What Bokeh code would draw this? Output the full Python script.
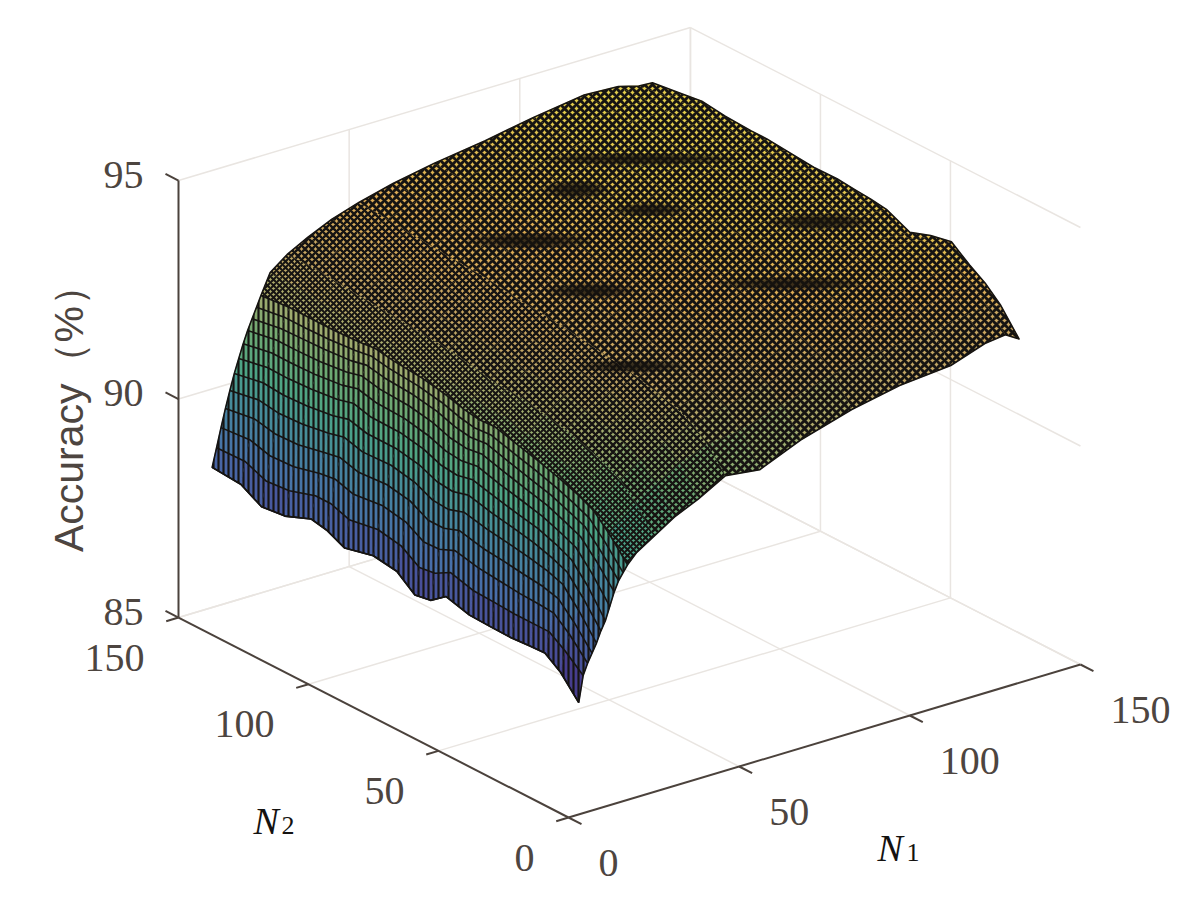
from bokeh.plotting import figure
from bokeh.embed import file_html
from bokeh.resources import INLINE
from bokeh.core.properties import value
from bokeh.models import ColumnDataSource
import numpy as np

# ---- data ----
n1_values = [3, 4.3, 5.6, 6.9, 8.2, 9.5, 10.8, 12.1, 13.4, 14.7, 16, 17.3, 20, 25,
             31, 38, 46, 56, 68, 83, 97, 112, 122, 128, 132]
n2_values = [0, 7, 13, 19, 26, 34, 42, 51, 57, 63, 70, 79, 90, 97, 103, 113, 122, 130, 141]
acc_n2_0 = [87.56, 88.15, 88.4, 88.6, 88.8, 89.05, 89.25, 89.55, 89.85, 90.08, 90.23, 90.38, 90.6, 90.85, 91.15, 91.4, 91.75, 91.65, 92.05, 92.4, 92.62, 92.73, 93.0, 93.06, 92.87]
acc_n2_7 = [88.04, 88.5, 88.85, 89.1, 89.35, 89.6, 89.85, 90.1, 90.35, 90.55, 90.72, 90.87, 91.1, 91.4, 91.7, 92.0, 92.25, 92.35, 92.65, 93.0, 93.2, 93.3, 93.45, 93.5, 93.42]
acc_n2_13 = [88.30, 88.75, 89.15, 89.45, 89.75, 90.0, 90.25, 90.5, 90.72, 90.92, 91.08, 91.22, 91.45, 91.75, 92.05, 92.3, 92.55, 92.7, 92.95, 93.3, 93.5, 93.6, 93.75, 93.8, 93.75]
acc_n2_19 = [88.28, 88.75, 89.18, 89.55, 89.88, 90.15, 90.42, 90.66, 90.88, 91.07, 91.24, 91.4, 91.62, 91.95, 92.25, 92.5, 92.72, 92.9, 93.15, 93.45, 93.7, 93.85, 94.0, 94.05, 93.98]
acc_n2_26 = [88.25, 88.75, 89.2, 89.6, 89.97, 90.28, 90.57, 90.82, 91.05, 91.24, 91.4, 91.55, 91.78, 92.1, 92.4, 92.65, 92.85, 93.05, 93.3, 93.6, 93.85, 94.0, 94.2, 94.3, 94.3]
acc_n2_34 = [88.26, 88.78, 89.25, 89.67, 90.05, 90.38, 90.67, 90.94, 91.17, 91.37, 91.55, 91.7, 91.9, 92.25, 92.55, 92.8, 92.97, 93.2, 93.45, 93.72, 93.95, 94.1, 94.2, 94.2, 94.2]
acc_n2_42 = [88.28, 88.8, 89.3, 89.72, 90.12, 90.47, 90.78, 91.05, 91.3, 91.5, 91.68, 91.83, 92.02, 92.35, 92.65, 92.9, 93.05, 93.3, 93.55, 93.8, 94.0, 94.15, 94.1, 94.05, 94.03]
acc_n2_51 = [88.43, 88.95, 89.42, 89.85, 90.24, 90.6, 90.92, 91.2, 91.45, 91.66, 91.83, 91.98, 92.14, 92.47, 92.75, 93.0, 93.15, 93.4, 93.65, 93.9, 94.1, 94.25, 94.3, 94.3, 94.28]
acc_n2_57 = [88.16, 88.75, 89.27, 89.72, 90.12, 90.5, 90.84, 91.14, 91.4, 91.62, 91.8, 91.96, 92.15, 92.48, 92.75, 93.05, 93.2, 93.45, 93.7, 93.95, 94.15, 94.3, 94.3, 94.33, 94.33]
acc_n2_63 = [88.10, 88.7, 89.25, 89.72, 90.15, 90.54, 90.88, 91.18, 91.45, 91.68, 91.87, 92.02, 92.2, 92.52, 92.85, 93.1, 93.25, 93.5, 93.75, 94.0, 94.2, 94.3, 94.35, 94.35, 94.36]
acc_n2_70 = [88.43, 88.98, 89.5, 89.95, 90.35, 90.72, 91.05, 91.33, 91.6, 91.82, 92.0, 92.14, 92.3, 92.62, 92.9, 93.15, 93.3, 93.55, 93.8, 94.05, 94.25, 94.35, 94.4, 94.4, 94.40]
acc_n2_79 = [88.51, 89.08, 89.6, 90.05, 90.46, 90.82, 91.15, 91.44, 91.7, 91.92, 92.1, 92.24, 92.4, 92.72, 92.95, 93.2, 93.35, 93.6, 93.85, 94.1, 94.3, 94.4, 94.4, 94.4, 94.39]
acc_n2_90 = [88.35, 88.97, 89.52, 90.0, 90.43, 90.82, 91.16, 91.47, 91.74, 91.97, 92.16, 92.3, 92.45, 92.77, 93.0, 93.25, 93.45, 93.65, 93.9, 94.15, 94.35, 94.45, 94.45, 94.45, 94.45]
acc_n2_97 = [88.55, 89.12, 89.65, 90.12, 90.55, 90.93, 91.27, 91.57, 91.83, 92.05, 92.23, 92.37, 92.5, 92.82, 93.05, 93.3, 93.48, 93.7, 93.92, 94.18, 94.38, 94.48, 94.48, 94.49, 94.49]
acc_n2_103 = [88.62, 89.12, 89.6, 90.05, 90.46, 90.83, 91.17, 91.47, 91.74, 91.97, 92.17, 92.33, 92.53, 92.85, 93.1, 93.35, 93.5, 93.75, 93.95, 94.2, 94.4, 94.5, 94.5, 94.5, 94.49]
acc_n2_113 = [88.38, 88.93, 89.45, 89.92, 90.36, 90.75, 91.1, 91.4, 91.67, 91.92, 92.12, 92.3, 92.58, 92.9, 93.15, 93.4, 93.55, 93.8, 94.0, 94.2, 94.4, 94.55, 94.55, 94.55, 94.52]
acc_n2_122 = [88.32, 88.88, 89.42, 89.9, 90.33, 90.72, 91.07, 91.38, 91.65, 91.9, 92.1, 92.3, 92.62, 92.95, 93.2, 93.45, 93.6, 93.85, 94.05, 94.25, 94.45, 94.6, 94.6, 94.6, 94.59]
acc_n2_130 = [88.59, 89.08, 89.55, 90.0, 90.4, 90.76, 91.08, 91.38, 91.65, 91.88, 92.1, 92.3, 92.68, 93.0, 93.25, 93.5, 93.65, 93.9, 94.05, 94.25, 94.45, 94.6, 94.6, 94.55, 94.52]
acc_n2_141 = [88.64, 89.06, 89.49, 89.9, 90.28, 90.64, 90.95, 91.26, 91.53, 91.77, 92.0, 92.24, 92.7, 93.0, 93.25, 93.5, 93.7, 93.9, 94.08, 94.25, 94.45, 94.62, 94.58, 94.45, 94.43]

# small ledges of the surface (N1, N2, accuracy)
ledge_n1 = [48.5, 58.6, 92, 63, 115, 90, 83, 102]
ledge_n2 = [39, 68.5, 35.2, 97.6, 54, 87, 106, 106]
ledge_acc = [93.0, 93.6, 94.0, 93.75, 94.3, 94.15, 94.2, 94.45]

n1_ticks = [0, 50, 100, 150]
n2_ticks = [0, 50, 100, 150]
acc_ticks = [85, 90, 95]

# ---- style ----
ledge_w = [105, 90, 145, 125, 105, 75, 65, 195]
ledge_h = [13, 15, 14, 16, 16, 13, 18, 12]
stops_z = [87.5, 88.3, 89.0, 90.0, 90.8, 91.6, 92.3, 93.0, 93.8, 94.6]
stops_rgb = [(66, 38, 125), (72, 72, 150), (72, 110, 170), (70, 135, 160), (75, 165, 135),
             (110, 170, 115), (165, 172, 110), (195, 165, 100), (222, 172, 85), (226, 205, 75)]
AXIS = "#4b423c"
GRID = "#e9e5e1"
TEXT = "#4d4540"
MESH = "#161412"


def project(n1, n2, z):
    n1, n2, z = np.asarray(n1, float), np.asarray(n2, float), np.asarray(z, float)
    return (568 + 3.413 * n1 - 2.6 * n2,
            817 - 1.02 * n1 - 1.333 * n2 - 43.7 * (z - 85))


def colour(z):
    r, g, b = (np.interp(z, stops_z, [s[i] for s in stops_rgb]) for i in range(3))
    return "#%02x%02x%02x" % (int(r), int(g), int(b))


acc = np.array([acc_n2_0, acc_n2_7, acc_n2_13, acc_n2_19, acc_n2_26, acc_n2_34, acc_n2_42, acc_n2_51, acc_n2_57,
                acc_n2_63, acc_n2_70, acc_n2_79, acc_n2_90, acc_n2_97, acc_n2_103, acc_n2_113, acc_n2_122,
                acc_n2_130, acc_n2_141])
N1, N2 = np.meshgrid(n1_values, n2_values)
PX, PY = project(N1, N2, acc)

p = figure(width=1171, height=892, x_range=(0, 1171), y_range=(892, 0), toolbar_location=None,
           output_backend="svg", min_border=0, outline_line_color=None)
p.axis.visible = False
p.grid.visible = False

# ---- walls and floor ----
gx, gy = [], []


def seg(a, b):
    x, y = project([a[0], b[0]], [a[1], b[1]], [a[2], b[2]])
    gx.append(list(x))
    gy.append(list(y))


for t in n1_ticks[1:]:
    seg((t, 0, 85), (t, 150, 85))
    seg((t, 150, 85), (t, 150, 95))
for t in n2_ticks[1:]:
    seg((0, t, 85), (150, t, 85))
    seg((150, t, 85), (150, t, 95))
for t in acc_ticks:
    seg((0, 150, t), (150, 150, t))
    seg((150, 150, t), (150, 0, t))
p.multi_line(gx, gy, line_color=GRID, line_width=1.5)

# ---- surface cells, far to near ----
cells = []
for j in range(len(n2_values) - 1):
    for i in range(len(n1_values) - 1):
        cells.append((-(n1_values[i] + n2_values[j]), i, j))
cells.sort()
xs, ys, fc, hp, hs, hw = [], [], [], [], [], []
for _, i, j in cells:
    xs.append([PX[j, i], PX[j, i + 1], PX[j + 1, i + 1], PX[j + 1, i]])
    ys.append([PY[j, i], PY[j, i + 1], PY[j + 1, i + 1], PY[j + 1, i]])
    fc.append(colour(acc[j:j + 2, i:i + 2].mean()))
    if n1_values[i] < 17:
        hp.append("vertical_line"); hs.append(5); hw.append(2.2)
    elif n1_values[i] < 25:
        hp.append("diagonal_cross"); hs.append(6); hw.append(2.1)
    elif n1_values[i] < 46:
        hp.append("diagonal_cross"); hs.append(7); hw.append(2.5)
    else:
        hp.append("diagonal_cross"); hs.append(8); hw.append(2.9)
src = ColumnDataSource(dict(xs=xs, ys=ys, fc=fc, hp=hp, hs=hs, hw=hw))
p.patches("xs", "ys", source=src, fill_color="fc", line_color="fc", line_width=0.8)
p.patches("xs", "ys", source=src, fill_alpha=0, line_color=None,
          hatch_pattern="hp", hatch_scale="hs", hatch_weight="hw", hatch_color=MESH)

# ledges, where the mesh crowds together
lx, ly = project(ledge_n1, ledge_n2, ledge_acc)
for k in (1.0, 0.85, 0.7, 0.55, 0.4):
    p.ellipse(lx, ly, width=[w * k for w in ledge_w], height=[h * k for h in ledge_h],
              fill_color="#17130f", fill_alpha=0.28, line_color=None)

# constant-N1 curves in the steep part
for i, n in enumerate(n1_values):
    if n <= 17.3:
        p.line(PX[:, i], PY[:, i], line_color=MESH, line_width=1.6)

# outline
ox = list(PX[0, :]) + list(PX[:, -1]) + list(PX[-1, ::-1]) + list(PX[::-1, 0])
oy = list(PY[0, :]) + list(PY[:, -1]) + list(PY[-1, ::-1]) + list(PY[::-1, 0])
p.line(ox, oy, line_color=MESH, line_width=1.6, line_join="round")

# ---- axes ----
ax, ay = [], []
for a, b in [((0, 0, 85), (150, 0, 85)), ((0, 0, 85), (0, 150, 85)), ((0, 150, 85), (0, 150, 95))]:
    x, y = project([a[0], b[0]], [a[1], b[1]], [a[2], b[2]])
    ax.append(list(x)); ay.append(list(y))
for t in n1_ticks:
    x, y = project([t, t], [0, -5], [85, 85])
    ax.append(list(x)); ay.append(list(y))
for t in n2_ticks:
    x, y = project([0, -3.6], [t, t], [85, 85])
    ax.append(list(x)); ay.append(list(y))
for t in acc_ticks:
    x, y = project([0, 0], [150, 155], [t, t])
    ax.append(list(x)); ay.append(list(y))
p.multi_line(ax, ay, line_color=AXIS, line_width=2)

FONT = value("Liberation Serif")
x, y = project(n1_ticks, [0] * 4, [85] * 4)
p.text(x, y, text=[str(t) for t in n1_ticks], x_offset=30, y_offset=45, text_font=FONT, text_font_size="40px",
       text_color=TEXT, text_align="left", text_baseline="middle")
x, y = project([0] * 4, n2_ticks, [85] * 4)
p.text(x, y, text=[str(t) for t in n2_ticks], x_offset=-34, y_offset=40, text_font=FONT, text_font_size="40px",
       text_color=TEXT, text_align="right", text_baseline="middle")
x, y = project([0] * 3, [150] * 3, acc_ticks)
p.text(x, y, text=[str(t) for t in acc_ticks], x_offset=-35, y_offset=-6, text_font=FONT, text_font_size="40px",
       text_color=TEXT, text_align="right", text_baseline="middle")

p.text([68], [408], text=["Accuracy（%）"], angle=np.pi / 2, text_font=value("Liberation Sans"),
       text_font_size="41px", text_color=TEXT, text_align="center", text_baseline="middle")

for (nx, ny, sx, sy, sub) in [(877, 847, 906, 852, "1"), (253, 820, 281, 825, "2")]:
    p.text([nx], [ny], text=["N"], text_font=FONT, text_font_style="italic", text_font_size="38px",
           text_color="#141210", text_align="left", text_baseline="alphabetic")
    p.text([sx], [sy], text=[sub], text_font=FONT, text_font_size="26px",
           text_color="#141210", text_align="left", text_baseline="alphabetic")

open("out.html", "w").write(file_html(p, INLINE))
